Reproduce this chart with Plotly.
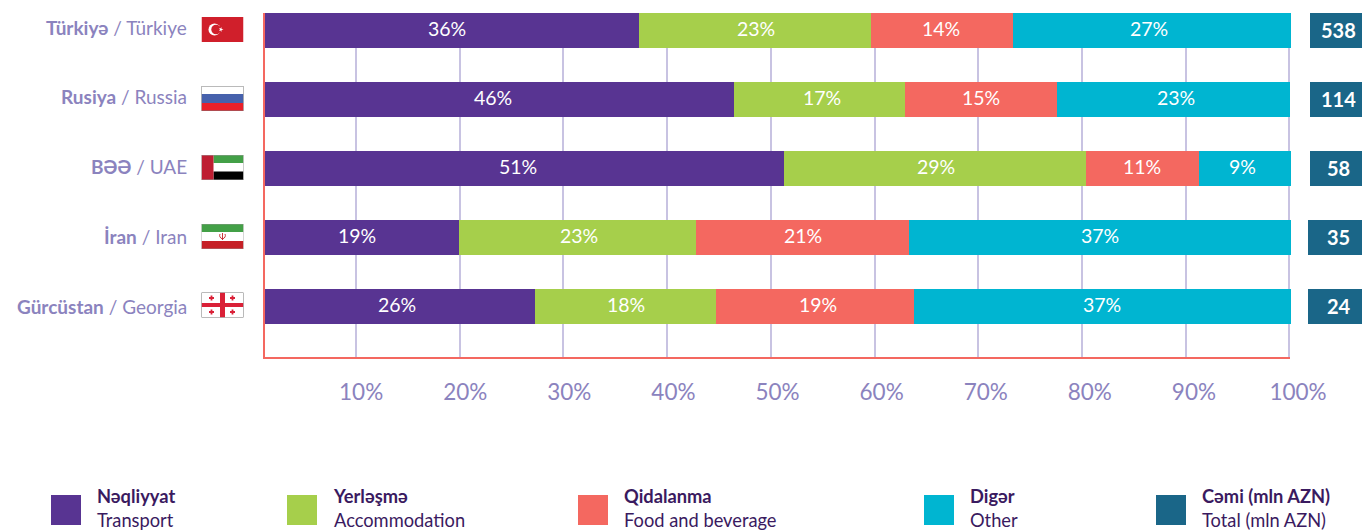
import base64
import plotly.graph_objects as go

W, H = 1362, 531
FONT = "Lato, 'Noto Sans', sans-serif"

countries_az = ["Türkiyə", "Rusiya", "BƏƏ", "İran", "Gürcüstan"]
countries_en = ["Türkiye", "Russia", "UAE", "Iran", "Georgia"]
transport = [36.45, 45.7, 50.6, 18.9, 26.3]
accommodation = [22.6, 16.67, 29.4, 23.1, 17.7]
food = [13.84, 14.8, 11.0, 20.8, 19.25]
other = [27.1, 22.7, 9.0, 37.2, 36.75]
transport_lbl = ["36%", "46%", "51%", "19%", "26%"]
accommodation_lbl = ["23%", "17%", "29%", "23%", "18%"]
food_lbl = ["14%", "15%", "11%", "21%", "19%"]
other_lbl = ["27%", "23%", "9%", "37%", "37%"]
totals = ["538", "114", "58", "35", "24"]
tick_vals = [10, 20, 30, 40, 50, 60, 70, 80, 90, 100]
tick_text = ["10%", "20%", "30%", "40%", "50%", "60%", "70%", "80%", "90%", "100%"]
legend_az = ["Nəqliyyat", "Yerləşmə", "Qidalanma", "Digər", "Cəmi (mln AZN)"]
legend_en = ["Transport", "Accommodation", "Food and beverage", "Other", "Total (mln AZN)"]

PURPLE, GREEN, SALMON, CYAN, TEAL = "#583492", "#A6CF4B", "#F46860", "#00B5D1", "#1A6688"
legend_colors = [PURPLE, GREEN, SALMON, CYAN, TEAL]
legend_x = [51, 287, 578, 924, 1156]
total_left = [1310, 1310, 1310, 1308, 1308]
row_label_shift = [3.5, 3, 2.5, 1, 0.5]
label_shift = [  # small pixel nudges of the bar labels, per row and series
    [-4.5, 1, -1, -3],
    [-6, 3, 0, 3],
    [-7, 1, 0, -2],
    [-5, 2, 0, 0],
    [-3, 0, 3, 0],
]
TICK = "#8B83BE"
GRID = "#C8C3E2"
DARK = "#3A1A60"

flag_svgs = [
    '<rect width="42" height="25" fill="#D01F2B"/><circle cx="13" cy="12.5" r="6" fill="#fff"/><circle cx="14.6" cy="12.5" r="4.8" fill="#D01F2B"/><polygon points="22,12.5 17.5,14 20,10 20,15 17.5,11" fill="#fff"/>',
    '<rect width="42" height="25" fill="#fff"/><rect y="8" width="42" height="9" fill="#4661AC"/><rect y="17" width="42" height="8" fill="#E9202A"/><rect width="42" height="25" fill="none" stroke="#777" stroke-width="1"/>',
    '<rect width="42" height="25" fill="#fff"/><rect x="12" width="30" height="8" fill="#43A047"/><rect x="12" y="16.5" width="30" height="8.5" fill="#000"/><rect width="12" height="25" fill="#BE1E32"/><rect width="42" height="25" fill="none" stroke="#999" stroke-width="1"/>',
    '<rect width="42" height="25" fill="#fff"/><rect width="42" height="8" fill="#43A047"/><rect y="17" width="42" height="8" fill="#C62026"/><path d="M21 9v7M18.5 10c-1 2 0 4 2.5 5M23.5 10c1 2 0 4-2.5 5" stroke="#C62026" fill="none" stroke-width="0.9"/><rect width="42" height="25" fill="none" stroke="#999" stroke-width="0.8"/>',
    '<rect width="42" height="25" fill="#fff"/><rect x="18.5" width="5" height="25" fill="#DA2037"/><rect y="10.5" width="42" height="4" fill="#DA2037"/><path d="M10 3v5M7.5 5.5h5M31 3v5M28.5 5.5h5M10 17v5M7.5 19.5h5M31 17v5M28.5 19.5h5" stroke="#DA2037" stroke-width="1.8"/><rect width="42" height="25" fill="none" stroke="#777" stroke-width="1"/>',
]
flag_tops = [17, 86, 155, 224, 292.5]


def svg_uri(body):
    svg = f'<svg xmlns="http://www.w3.org/2000/svg" width="42" height="25" viewBox="0 0 42 25">{body}</svg>'
    return "data:image/svg+xml;base64," + base64.b64encode(svg.encode()).decode()


def px(x):
    return x / W


def py(y):
    return 1 - y / H


y_labels = [f"{a} / {e}" for a, e in zip(countries_az, countries_en)]
series = [
    (legend_en[0], transport, transport_lbl, PURPLE),
    (legend_en[1], accommodation, accommodation_lbl, GREEN),
    (legend_en[2], food, food_lbl, SALMON),
    (legend_en[3], other, other_lbl, CYAN),
]

fig = go.Figure()
fig.add_trace(go.Scatter(x=tick_vals, y=[y_labels[0]] * 10, xaxis="x", yaxis="y", mode="markers",
                         opacity=0, hoverinfo="skip", showlegend=False))
for name, vals, lbl, col in series:
    fig.add_trace(go.Bar(
        y=y_labels, x=vals, name=name, orientation="h", xaxis="x2", yaxis="y",
        marker=dict(color=col, line_width=0), width=0.507, showlegend=False,
    ))
fig.add_trace(go.Scatter(x=tick_vals, y=[y_labels[0]] * 10, xaxis="x3", yaxis="y", mode="markers",
                         opacity=0, hoverinfo="skip", showlegend=False))

annotations = []
shapes = []

# bar value labels, centred on each stacked segment
for i in range(len(y_labels)):
    start = 0.0
    for j, (_, vals, lbl, _c) in enumerate(series):
        annotations.append(dict(
            text=lbl[i], xref="x2", yref="y", x=start + vals[i] / 2, y=i, xanchor="center", yanchor="middle",
            xshift=label_shift[i][j], yshift=2, showarrow=False,
            font=dict(color="white", size=19.5, family=FONT),
        ))
        start += vals[i]

# row labels
for i, (a, e) in enumerate(zip(countries_az, countries_en)):
    annotations.append(dict(
        text=f"<b>{a}</b> / {e}", xref="paper", yref="y", x=px(189), y=i, xanchor="right", yanchor="middle",
        yshift=row_label_shift[i], showarrow=False, font=dict(size=19, color=TICK, family=FONT),
    ))

# totals column
for i, (t, left) in enumerate(zip(totals, total_left)):
    shapes.append(dict(type="rect", xref="paper", yref="y", x0=px(left), x1=1, y0=i - 0.2536, y1=i + 0.2536,
                       fillcolor=TEAL, line_width=0))
    annotations.append(dict(
        text=f"<b>{t}</b>", xref="paper", yref="y", x=px(1338.5), y=i, xanchor="center", yanchor="middle",
        yshift=1, showarrow=False, font=dict(color="white", size=20, family=FONT),
    ))

# legend
for x0, az, en, col in zip(legend_x, legend_az, legend_en, legend_colors):
    shapes.append(dict(type="rect", xref="paper", yref="paper", x0=px(x0), x1=px(x0 + 30),
                       y0=py(525), y1=py(495), fillcolor=col, line_width=0))
    annotations.append(dict(text=f"<b>{az}</b><br>{en}", xref="paper", yref="paper", x=px(x0 + 44), y=py(508),
                            xanchor="left", yanchor="middle", align="left", showarrow=False,
                            font=dict(color=DARK, size=18.3, family=FONT)))

# bottom axis line
shapes.append(dict(type="line", xref="paper", yref="paper", x0=px(263), x1=px(1290), y0=py(358), y1=py(358),
                   line=dict(color=SALMON, width=2)))

images = [dict(source=svg_uri(b), xref="paper", yref="paper", x=px(201.5), y=py(t), sizex=42 / W, sizey=25 / H,
               xanchor="left", yanchor="top", sizing="stretch", layer="above")
          for b, t in zip(flag_svgs, flag_tops)]

y_dom = [py(358), py(13)]
fig.update_layout(
    width=W, height=H, margin=dict(l=0, r=0, t=0, b=0, autoexpand=False), paper_bgcolor="white",
    plot_bgcolor="rgba(0,0,0,0)",
    barmode="stack", showlegend=False, font=dict(family=FONT),
    annotations=annotations, shapes=shapes, images=images,
    xaxis=dict(domain=[px(264.5), px(1293)], range=[1.17, 100.35], anchor="y", tickvals=tick_vals, showticklabels=False,
               showgrid=True, gridcolor=GRID, gridwidth=2, zeroline=False, ticks="", showline=False),
    xaxis2=dict(domain=[px(265), px(1291)], range=[0, 100], anchor="y", visible=False),
    xaxis3=dict(domain=[px(257), px(1298)], range=[0, 100], anchor="y", tickvals=tick_vals, ticktext=tick_text,
                showgrid=False, zeroline=False, showline=False, ticks="", ticklabelstandoff=18,
                tickfont=dict(size=22.5, color=TICK, family=FONT)),
    yaxis=dict(domain=y_dom, anchor="x", type="category", categoryorder="array", categoryarray=y_labels,
               range=[4.746, -0.2536], showgrid=False, zeroline=False, showline=True, linecolor=SALMON, linewidth=2,
               ticks="", showticklabels=False),
)

fig.write_html("out.html", config=dict(displayModeBar=False),
               post_script="document.body.style.margin='0';document.body.style.overflow='hidden';")
